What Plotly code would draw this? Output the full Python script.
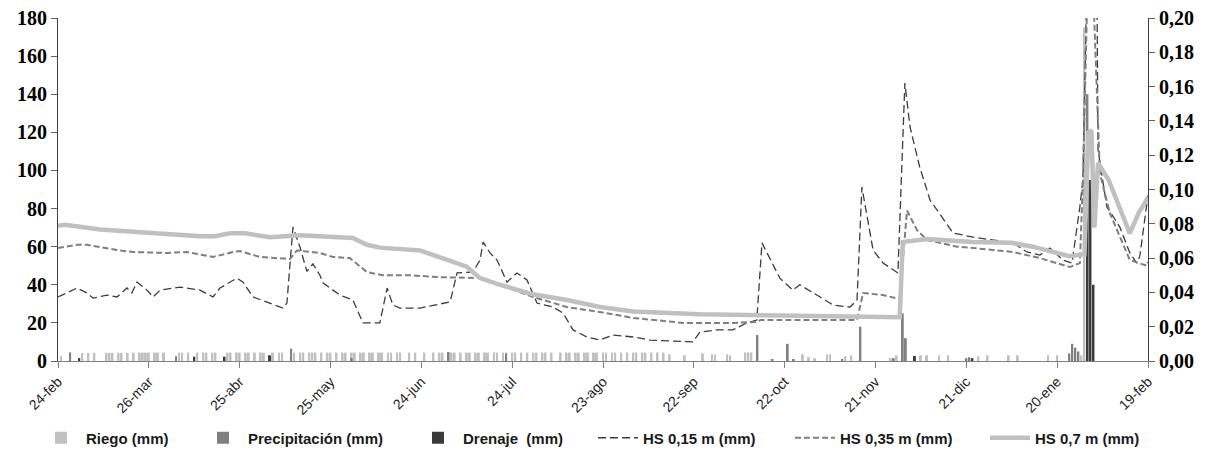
import pandas as pd
import plotly.graph_objects as go

START = pd.Timestamp("2009-02-24")

tick_dates = ["2009-02-24", "2009-03-26", "2009-04-25", "2009-05-25", "2009-06-24",
              "2009-07-24", "2009-08-23", "2009-09-22", "2009-10-22", "2009-11-21",
              "2009-12-21", "2010-01-20", "2010-02-19"]
tick_labels = ["24-feb", "26-mar", "25-abr", "25-may", "24-jun", "24-jul", "23-ago",
               "22-sep", "22-oct", "21-nov", "21-dic", "20-ene", "19-feb"]

left_ticks = [0, 20, 40, 60, 80, 100, 120, 140, 160, 180]
right_ticks = [0.00, 0.02, 0.04, 0.06, 0.08, 0.10, 0.12, 0.14, 0.16, 0.18, 0.20]
right_labels = ["0,00", "0,02", "0,04", "0,06", "0,08", "0,10", "0,12", "0,14", "0,16", "0,18", "0,20"]

# (day since 24-feb, mm)
riego = [(1, 2.6), (8, 4.2), (10, 4.2), (12, 4.2), (16, 4.3), (17, 4.3), (18, 4.3), (20, 4.3),
         (21, 4.3), (23, 4.3), (25, 4.4), (27, 4.4), (28, 4.4), (29, 4.4), (30, 4.4), (32, 4.4),
         (33, 4.4), (35, 4.4), (40, 4.4), (41, 4.4), (43, 4.4), (46, 4.4), (48, 4.4), (49, 4.4),
         (51, 4.4), (52, 4.4), (56, 4.4), (57, 4.4), (59, 4.4), (60, 4.4), (62, 4.4), (63, 4.4),
         (65, 4.4), (67, 4.4), (68, 4.4), (71, 4.4), (73, 4.4), (74, 4.4), (78, 4.4), (80, 4.4),
         (81, 4.4), (83, 4.4), (84, 4.4), (85, 4.4), (87, 4.4), (89, 4.4), (90, 4.4), (92, 4.4),
         (94, 4.4), (95, 4.4), (97, 4.4), (98, 4.4), (100, 4.4), (101, 4.4), (103, 4.4), (104, 4.4),
         (106, 4.4), (107, 4.4), (109, 4.4), (110, 4.4), (112, 4.4), (113, 4.4), (116, 4.4), (118, 4.4),
         (121, 4.4), (124, 4.4), (126, 4.4), (127, 4.4), (130, 4.4), (131, 4.4), (133, 4.4), (135, 4.4),
         (136, 4.4), (138, 4.4), (139, 4.4), (141, 4.4), (142, 4.4), (144, 4.4), (145, 4.4), (147, 4.4),
         (148, 4.4), (150, 4.4), (151, 4.4), (153, 4.4), (155, 4.4), (157, 4.4), (158, 4.4), (160, 4.4),
         (161, 4.4), (163, 4.4), (166, 4.4), (168, 4.4), (169, 4.4), (171, 4.4), (172, 4.4), (174, 4.4),
         (175, 4.4), (177, 4.4), (178, 4.4), (180, 4.4), (181, 4.4), (183, 4.4), (184, 4.4), (186, 4.4),
         (188, 4.4), (190, 4.4), (191, 4.4), (193, 4.4), (194, 4.4), (196, 4.4), (198, 4.4), (200, 4.4),
         (202, 3.5), (207, 3.0), (213, 4.0), (216, 3.5), (217, 3.5), (221, 3.5), (222, 3.0),
         (227, 4.5), (228, 4.5), (229, 4.5), (246, 3.5), (248, 2.0), (250, 1.5), (254, 3.5), (255, 3.5),
         (260, 2.5), (262, 3.0), (275, 1.5), (277, 3.0), (285, 3.0), (287, 3.0), (291, 3.0), (294, 3.0),
         (304, 2.5), (307, 3.0), (314, 3.0), (317, 3.0), (327, 3.0), (330, 3.0), (338, 3.0), (339, 175)]

precipitacion = [(4, 4.5), (39, 2.5), (77, 6.5), (97, 1.5), (129, 4.7), (148, 4.0), (231, 13.6),
                 (236, 1.0), (241, 9.0), (243, 1.0), (259, 1.0), (265, 18.0), (276, 1.5), (279, 25.0),
                 (280, 12.0), (300, 1.5), (301, 2.0), (334, 4.0), (335, 9.0), (336, 7.0), (337, 5.0),
                 (340, 140.0)]

drenaje = [(7, 1.5), (45, 2.3), (55, 2.3), (70, 3.0), (283, 2.6), (302, 1.5), (340, 95.0),
           (341, 95.0), (342, 40.0)]

hs015 = [(0, 33.6), (3, 35.7), (6.3, 38.3), (9.6, 35.7), (11.6, 33.0), (16.2, 34.6), (19.5, 33.6),
         (22.8, 38.3), (24.4, 35.7), (26.1, 41.4), (29.4, 37.2), (31.4, 33.6), (33.7, 37.2),
         (40.3, 38.8), (46.9, 37.2), (51.2, 33.6), (53.5, 38.3), (59.1, 43.5), (61.1, 41.4),
         (64.4, 33.6), (69, 31.0), (74.3, 27.8), (75.6, 30.4), (77.6, 70.3), (79.9, 59.8),
         (82.2, 47.0), (84.2, 51.0), (86.5, 45.0), (87.5, 41.0), (93.1, 34.6), (97.4, 32.0),
         (100.7, 20.0), (106.3, 20.0), (108.7, 38.3), (110.6, 29.4), (112.9, 27.8), (119.6, 27.8),
         (129.5, 31.0), (131.8, 46.2), (135, 46.7), (137, 46.7), (139.4, 53.0), (140.4, 62.4),
         (142.7, 56.7), (145, 53.0), (148.3, 41.4), (151.6, 46.2), (154.9, 42.5), (158.2, 30.4),
         (163.5, 28.3), (166.8, 25.2), (170.1, 16.3), (174.7, 12.6), (179, 11.0), (183.3, 13.6),
         (190, 12.6), (195.5, 11.0), (209.7, 10.0), (212, 15.2), (217.6, 16.3), (222.9, 16.3),
         (227.5, 20.0), (230.8, 21.5), (232.5, 62.0), (238.4, 43.5), (242.7, 37.2), (245, 40.0),
         (251.7, 33.6), (255.9, 29.4), (261.6, 28.3), (263.9, 32.0), (265.5, 91.3), (269.2, 58.2),
         (272.5, 51.4), (277.4, 46.2), (279.7, 145.9), (281.4, 122.8), (284.6, 101.8), (288, 84.5),
         (295.6, 67.2), (302.2, 65.0), (315.4, 62.0), (320, 57.2), (324.3, 55.6), (327.6, 59.3),
         (331.9, 53.0), (334.9, 51.4), (337.5, 81.0), (338.5, 95.0), (340, 215.0), (343.1, 205.0),
         (343.5, 110.7), (346.4, 81.0), (350.7, 70.3), (354, 56.7), (356.3, 51.4), (357.3, 55.0),
         (360, 87.0)]

hs035 = [(0, 59.3), (6.3, 61.0), (9.6, 61.0), (19.5, 58.2), (24.8, 57.2), (36, 56.7), (42.6, 57.2),
         (51.2, 54.6), (57.8, 57.2), (60.1, 57.7), (66.7, 54.6), (76.6, 53.5), (78.9, 58.0),
         (86.5, 56.7), (90.8, 54.6), (96.4, 54.0), (102, 46.7), (107.3, 45.0), (116.2, 45.0),
         (126.2, 44.0), (139.4, 43.5), (146, 40.0), (156.9, 33.6), (168.1, 28.3), (179, 25.7),
         (190, 22.6), (206.4, 20.0), (222.9, 20.0), (230.8, 20.5), (232, 21.5), (263.9, 21.5),
         (265.9, 35.7), (272.5, 34.6), (278, 32.5), (280.4, 79.0), (283.7, 68.7), (287, 63.5),
         (296.9, 60.0), (302.2, 59.3), (315.4, 57.2), (324.3, 54.0), (334.2, 49.3), (337.5, 51.4),
         (338.5, 95.0), (340, 195.0), (342, 190.0), (344.1, 98.6), (347.4, 77.6), (354, 53.0),
         (357.3, 51.4), (359.6, 50.0), (360, 52.0)]

hs07 = [(0, 71.0), (2.3, 71.5), (13.9, 69.0), (30.4, 67.0), (46.9, 65.5), (51.8, 65.5), (56.8, 67.0),
        (61.8, 67.0), (70, 65.0), (79.9, 66.0), (97.4, 64.5), (102, 61.0), (106.3, 59.5),
        (119.6, 58.0), (128.5, 53.0), (135, 49.5), (139.4, 43.5), (146, 40.0), (156.9, 35.0),
        (168.1, 32.0), (179, 28.3), (190, 26.0), (212, 24.5), (230.8, 24.0), (278, 23.0),
        (279, 62.5), (287, 64.0), (302, 62.5), (315, 62.0), (322, 60.0), (334, 55.0), (339, 56.0),
        (340.3, 120.0), (341.3, 121.0), (342.3, 70.0), (343.5, 104.0), (347, 95.0), (354, 67.0),
        (357, 78.0), (359, 83.0), (360, 86.0)]


def split(pairs):
    days = [START + pd.Timedelta(days=float(d)) for d, _ in pairs]
    vals = [v for _, v in pairs]
    return days, vals


DAY_MS = 86400000
FIG_W, FIG_H = 1208, 450
LEG_FONT = dict(family="Liberation Sans Narrow, Liberation Sans, Arial", size=15, color="#1a1a1a", weight="bold")
TICK_FONT = dict(family="Liberation Serif, Times New Roman, serif", size=20, color="#000000", weight="bold")

fig = go.Figure()

bar_specs = [("Riego (mm)", riego, "#c0c0c0", "legend"),
             ("Precipitación (mm)", precipitacion, "#808080", "legend2"),
             ("Drenaje  (mm)", drenaje, "#3a3a3a", "legend3")]
for name, pairs, color, leg in bar_specs:
    x, y = split(pairs)
    fig.add_trace(go.Bar(x=x, y=y, name=name, marker=dict(color=color, line=dict(width=0)),
                         width=0.65 * DAY_MS, legend=leg))

line_specs = [("HS 0,15 m (mm)", hs015, "#3c3c3c", 1.3, "8px,4px", "legend4"),
              ("HS 0,35 m (mm)", hs035, "#7f7f7f", 2.0, "6px,3px", "legend5"),
              ("HS 0,7 m (mm)", hs07, "#c0c0c0", 4.5, "solid", "legend6")]
for name, pairs, color, w, dash, leg in line_specs:
    x, y = split(pairs)
    fig.add_trace(go.Scatter(x=x, y=y, name=name, mode="lines",
                             line=dict(color=color, width=w, dash=dash), legend=leg))

# secondary axis carrier (no visible marks)
fig.add_trace(go.Scatter(x=[tick_dates[0]], y=[None], yaxis="y2", showlegend=False,
                         hoverinfo="skip", mode="lines"))

leg_y = 1 - 438 / FIG_H
legend_lefts = [36, 198, 413, 593, 790, 985]
legend_keys = ["legend", "legend2", "legend3", "legend4", "legend5", "legend6"]
legends = {}
for key, lx in zip(legend_keys, legend_lefts):
    legends[key] = dict(x=lx / FIG_W, y=leg_y, xref="container", yref="container",
                        xanchor="left", yanchor="middle",
                        orientation="h", font=LEG_FONT, itemwidth=40,
                        bgcolor="rgba(0,0,0,0)", borderwidth=0)

fig.update_layout(
    width=FIG_W, height=FIG_H,
    margin=dict(l=58, r=60, t=18, b=89, autoexpand=False),
    paper_bgcolor="white", plot_bgcolor="white",
    barmode="overlay",
    showlegend=True,
    xaxis=dict(type="date", range=[tick_dates[0], tick_dates[-1]],
               tickmode="array", tickvals=tick_dates, ticktext=tick_labels,
               tickangle=-45, ticks="outside", ticklen=6, tickcolor="#808080",
               showline=True, linecolor="#808080", linewidth=1, showgrid=False, zeroline=False,
               automargin=False,
               tickfont=dict(family="Liberation Sans Narrow, Liberation Sans, Arial", size=14, color="#222222")),
    yaxis=dict(range=[0, 180], tickmode="array", tickvals=left_ticks,
               ticks="outside", ticklen=6, tickcolor="#606060", automargin=False,
               showline=True, linecolor="#404040", linewidth=1, showgrid=False, zeroline=False,
               tickfont=TICK_FONT),
    yaxis2=dict(range=[0, 0.2], overlaying="y", side="right", tickmode="array",
                tickvals=right_ticks, ticktext=right_labels, automargin=False,
                ticks="outside", ticklen=6, tickcolor="#606060",
                showline=True, linecolor="#404040", linewidth=1, showgrid=False, zeroline=False,
                tickfont=TICK_FONT),
    **legends,
)

fig.write_html("out.html", config={"displayModeBar": False},
               post_script="document.body.style.margin='0';document.body.style.overflow='hidden';")
